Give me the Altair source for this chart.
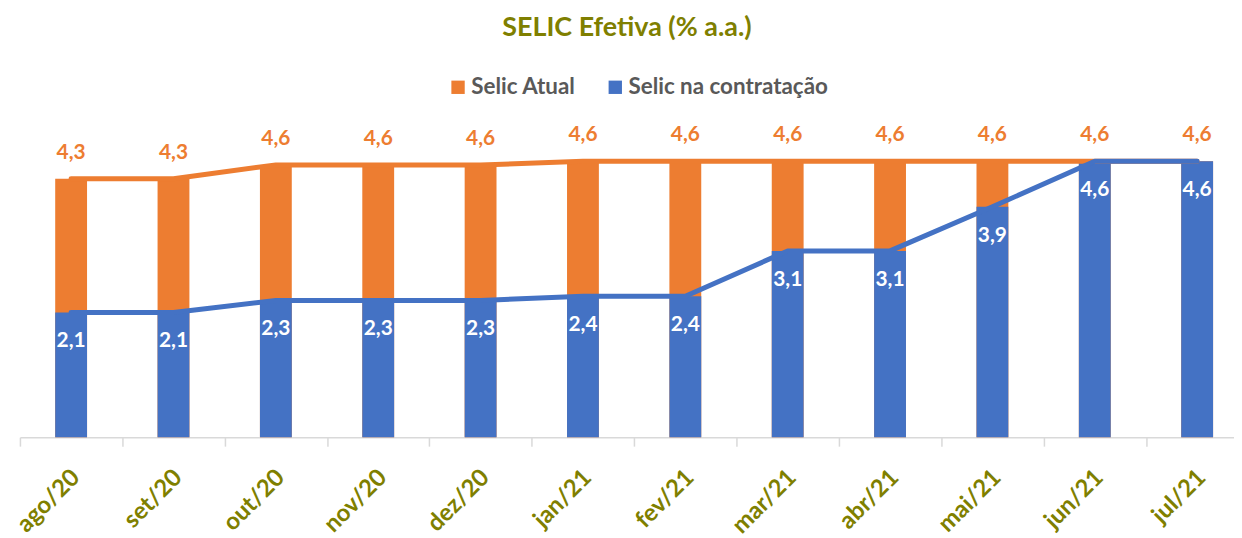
import json
import altair as alt
import pandas as pd

months = ["ago/20", "set/20", "out/20", "nov/20", "dez/20", "jan/21",
          "fev/21", "mar/21", "abr/21", "mai/21", "jun/21", "jul/21"]
selic_atual = [4.33, 4.33, 4.56, 4.56, 4.56, 4.62, 4.62, 4.62, 4.62, 4.62, 4.62, 4.62]
selic_contratacao = [2.09, 2.09, 2.29, 2.29, 2.29, 2.36, 2.36, 3.12, 3.12, 3.86, 4.62, 4.62]
series_names = ["Selic Atual", "Selic na contratação"]

ORANGE = "#ED7D31"
BLUE = "#4472C4"
OLIVE = "#7F7F00"
GRAY_TXT = "#595959"
AXIS_GRAY = "#D9D9D9"
FONT = "Lato"

df = pd.DataFrame({
    "idx": list(range(len(months))),
    "mes": months,
    "atual": selic_atual,
    "contr": selic_contratacao,
    "s_atual": [series_names[0]] * len(months),
    "s_contr": [series_names[1]] * len(months),
})

xscale = alt.Scale(domain=[-0.5, 11.36], nice=False, zero=False, padding=0)
yscale = alt.Scale(domain=[0, 5], nice=False, zero=True)

tick_values = [i - 0.5 for i in range(len(months))] + list(range(len(months)))
label_expr = "datum.value % 1 != 0 ? '' : " + json.dumps(months) + "[round(datum.value)]"

xaxis = alt.Axis(
    values=tick_values,
    labelExpr=label_expr,
    labelAngle=-45,
    labelFont=FONT,
    labelFontSize=24,
    labelFontWeight="bold",
    labelColor=OLIVE,
    labelOverlap=False,
    labelFlush=False,
    labelPadding=19,
    labelOffset=-4,
    domainColor=AXIS_GRAY,
    domainWidth=1.5,
    tickColor=AXIS_GRAY,
    tickWidth=1.5,
    tickSize=9,
    tickOpacity={"condition": {"test": "datum.value % 1 == 0", "value": 0}, "value": 1},
    grid=False,
    title=None,
)

X = alt.X("idx:Q", scale=xscale, axis=xaxis)

color_scale = alt.Scale(domain=series_names, range=[ORANGE, BLUE])
legend = alt.Legend(
    orient="none",
    legendX=429,
    legendY=-63,
    direction="horizontal",
    title=None,
    symbolType="square",
    symbolSize=180,
    symbolStrokeWidth=0,
    labelFont=FONT,
    labelFontSize=22.5,
    labelFontWeight="bold",
    labelColor=GRAY_TXT,
    labelOffset=2,
    labelLimit=400,
    columnPadding=28,
    padding=0,
)

base = alt.Chart(df).transform_calculate(
    lbl_atual="replace(format(datum.atual, '.1f'), '.', ',')",
    lbl_contr="replace(format(datum.contr, '.1f'), '.', ',')",
)

bar_atual = base.mark_bar(size=32).encode(
    x=X,
    y=alt.Y("atual:Q", scale=yscale, axis=None),
    color=alt.Color("s_atual:N", scale=color_scale, legend=legend),
)
bar_contr = base.mark_bar(size=32).encode(
    x=X,
    y=alt.Y("contr:Q", scale=yscale, axis=None),
    color=alt.Color("s_contr:N", scale=color_scale, legend=legend),
)
line_atual = base.mark_line(color=ORANGE, strokeWidth=5, strokeCap="round", strokeJoin="round").encode(
    x=X, y=alt.Y("atual:Q", scale=yscale, axis=None)
)
line_contr = base.mark_line(color=BLUE, strokeWidth=5, strokeCap="round", strokeJoin="round").encode(
    x=X, y=alt.Y("contr:Q", scale=yscale, axis=None)
)
text_atual = base.mark_text(
    dy=-26, color=ORANGE, font=FONT, fontSize=21, fontWeight="bold", baseline="middle"
).encode(x=X, y=alt.Y("atual:Q", scale=yscale, axis=None), text="lbl_atual:N")
text_contr = base.mark_text(
    dy=29, color="white", font=FONT, fontSize=21, fontWeight="bold", baseline="middle"
).encode(x=X, y=alt.Y("contr:Q", scale=yscale, axis=None), text="lbl_contr:N")

chart = alt.layer(
    bar_atual, bar_contr, line_atual, line_contr, text_atual, text_contr
).properties(
    width=1220,
    height=300,
    background="white",
    title=alt.Title(
        "SELIC Efetiva (% a.a.)",
        font=FONT,
        fontSize=27,
        fontWeight="bold",
        color=OLIVE,
        anchor="middle",
        offset=34,
    ),
    autosize=alt.AutoSizeParams(type="none"),
    padding={"left": 12, "top": 130, "right": 0, "bottom": 100},
).configure_view(
    strokeWidth=0,
    stroke="transparent",
)

chart.save("out.html", embed_options={"renderer": "svg", "actions": False})
